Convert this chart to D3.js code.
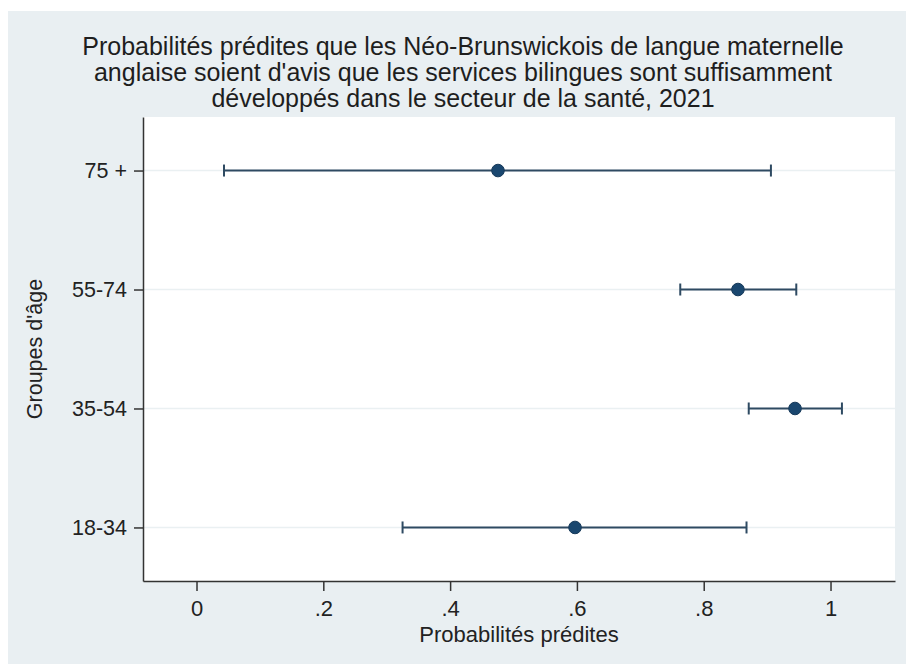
<!DOCTYPE html>
<html><head><meta charset="utf-8">
<script src="https://cdn.jsdelivr.net/npm/d3@7"></script>
<style>body{margin:0;background:#fff}svg{display:block}text{font-family:"Liberation Sans",Arial,sans-serif}</style>
</head><body><svg id="c" width="906" height="664"></svg>
<script>
const titleLines = ["Probabilités prédites que les Néo-Brunswickois de langue maternelle",
  "anglaise soient d'avis que les services bilingues sont suffisamment",
  "développés dans le secteur de la santé, 2021"];
const categories = ["75 +", "55-74", "35-54", "18-34"];
const estimates = [0.4755, 0.854, 0.944, 0.597];
const lowerCI = [0.0434, 0.763, 0.871, 0.325];
const upperCI = [0.906, 0.946, 1.018, 0.8675];
const xTicks = [0, 0.2, 0.4, 0.6, 0.8, 1];
const xTickLabels = ["0", ".2", ".4", ".6", ".8", "1"];
const xTitle = "Probabilités prédites";
const yTitle = "Groupes d'âge";

const svg = d3.select("#c");
svg.append("rect").attr("x",8).attr("y",11).attr("width",898).attr("height",653).attr("fill","#e9eff2");
const L=143,R=895,T=117,B=581;
svg.append("rect").attr("x",L).attr("y",T).attr("width",R-L).attr("height",B-T).attr("fill","#fff");

const x = d3.scaleLinear().domain([-0.0844,1.1017]).range([L,R]);
const y = d3.scalePoint().domain(categories).range([T,B]).padding(0.45);

const data = categories.map((c,i)=>({c,est:estimates[i],lo:lowerCI[i],hi:upperCI[i]}));

// grid
svg.append("g").selectAll("line").data(categories).join("line")
  .attr("x1",L).attr("x2",R).attr("y1",d=>y(d)).attr("y2",d=>y(d))
  .attr("stroke","#eaf0f2").attr("stroke-width",1.5);

// axes
const xa = svg.append("g").attr("transform",`translate(0,${B})`)
  .call(d3.axisBottom(x).tickValues(xTicks).tickFormat((d,i)=>xTickLabels[i]).tickSize(10).tickPadding(9).tickSizeOuter(0));
xa.select(".domain").attr("stroke","#333").attr("stroke-width",1.5);
xa.selectAll(".tick line").attr("stroke","#333").attr("stroke-width",1.5);
xa.selectAll(".tick text").attr("font-size",22).attr("fill","#222");

const ya = svg.append("g").attr("transform",`translate(${L},0)`)
  .call(d3.axisLeft(y).tickSize(9).tickPadding(7).tickSizeOuter(0));
ya.select(".domain").attr("stroke","#333").attr("stroke-width",1.5);
ya.selectAll(".tick line").attr("stroke","#333").attr("stroke-width",1.5);
ya.selectAll(".tick text").attr("font-size",21.5).attr("fill","#222");

// error bars
const col="#1a476f", bar="#2e4a62";
const g = svg.append("g");
g.selectAll("line.ci").data(data).join("line").attr("class","ci")
  .attr("x1",d=>x(d.lo)).attr("x2",d=>x(d.hi)).attr("y1",d=>y(d.c)).attr("y2",d=>y(d.c))
  .attr("stroke",bar).attr("stroke-width",2);
["lo","hi"].forEach(k=>{
  g.selectAll("line.cap"+k).data(data).join("line").attr("class","cap"+k)
   .attr("x1",d=>x(d[k])).attr("x2",d=>x(d[k])).attr("y1",d=>y(d.c)-6).attr("y2",d=>y(d.c)+6)
   .attr("stroke",bar).attr("stroke-width",2);
});
g.selectAll("circle").data(data).join("circle")
  .attr("cx",d=>x(d.est)).attr("cy",d=>y(d.c)).attr("r",6.3)
  .attr("fill",col).attr("stroke","#173a5a").attr("stroke-width",1);

// titles
const tt = svg.append("text").attr("text-anchor","middle").attr("font-size",25).attr("fill","#1e1e1e");
titleLines.forEach((s,i)=>tt.append("tspan").attr("x",463).attr("y",55+i*26).text(s));
svg.append("text").attr("x",(L+R)/2).attr("y",642).attr("text-anchor","middle").attr("font-size",22).attr("fill","#222").text(xTitle);
svg.append("text").attr("transform",`translate(42,${(T+B)/2}) rotate(-90)`).attr("text-anchor","middle").attr("font-size",21.5).attr("fill","#222").text(yTitle);
</script></body></html>
